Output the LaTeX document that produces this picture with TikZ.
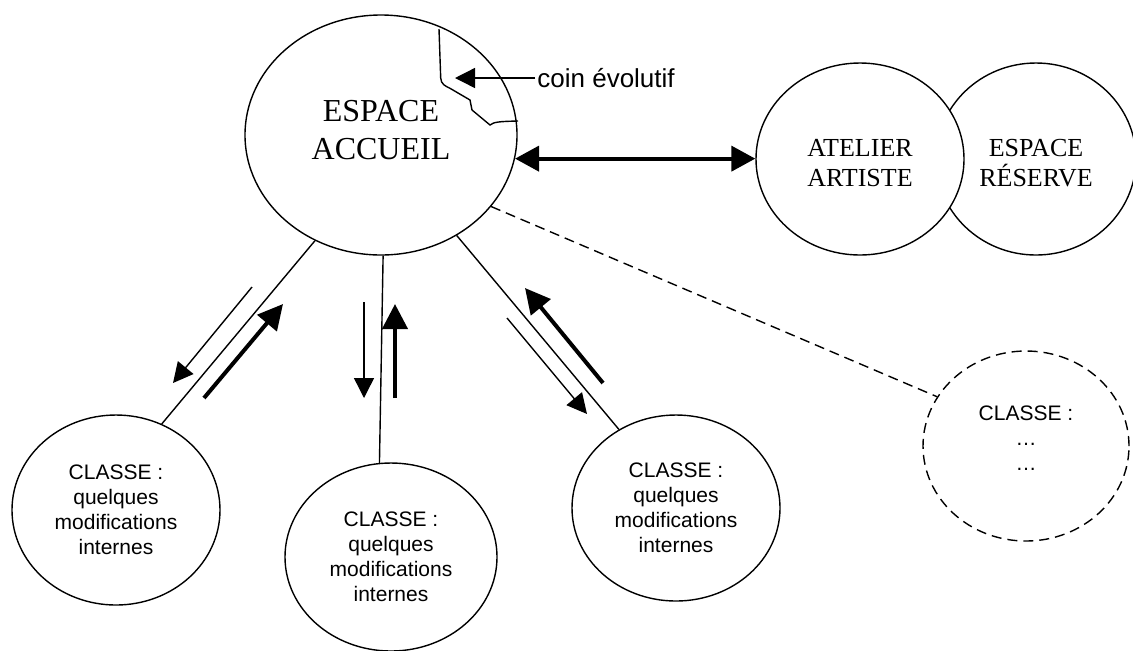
\documentclass[tikz,border=0pt]{standalone}
\usepackage{fontspec}
\setmainfont{Liberation Serif}
\setsansfont{Liberation Sans}
\usetikzlibrary{shapes.geometric, arrows.meta}
\tikzstyle{planche} = [x = .5pt, y = -.5pt]
\tikzstyle{espaceStyle} = [draw, ellipse, line width = .7pt, inner sep = 0pt, align = center]
\tikzstyle{grandTexte} = [font = \fontsize{16}{19}\selectfont]
\tikzstyle{moyenTexte} = [font = \fontsize{13}{15}\selectfont]
\tikzstyle{classeTexte} = [font = \sffamily\fontsize{10.5}{12.5}\selectfont]
\tikzstyle{trait} = [line width = .7pt]
\tikzstyle{pointille} = [line width = .7pt, dash pattern = on 5pt off 3pt]
\tikzstyle{allerStyle} = [line width = .7pt, -{Triangle[length = 10pt, width = 10pt]}]
\tikzstyle{retourStyle} = [line width = 2pt, -{Triangle[length = 12.5pt, width = 12.5pt]}]
\tikzstyle{doubleStyle} = [line width = 2pt, {Triangle[length = 12pt, width = 12.5pt]}-{Triangle[length = 12pt, width = 12.5pt]}]
\newcommand{\flechesClasse}[9]{
  \coordinate (#1a) at (#2,#3);
  \coordinate (#1b) at (#4,#5);
  \coordinate (#1c) at (#6,#7);
  \coordinate (#1d) at (#8,#9);
  \draw [allerStyle] (#1a) -- (#1b);
  \draw [retourStyle] (#1c) -- (#1d);
}
\begin{document}
\begin{tikzpicture}[planche]
    \useasboundingbox (0,0) rectangle (1133,650);
    % espaces du haut
    \node [espaceStyle, grandTexte, text depth = 5pt, minimum width = 136pt, minimum height = 120pt] (accueil) at (381,135) {ESPACE\\ACCUEIL};
    \node [espaceStyle, moyenTexte, text height = 27.6pt, minimum width = 100pt, minimum height = 96pt] (reserve) at (1036,159) {ESPACE\\RÉSERVE};
    \node [espaceStyle, moyenTexte, text height = 27.6pt, fill = white, minimum width = 104pt, minimum height = 96pt] (atelier) at (860,159) {ATELIER\\ARTISTE};
    % coin evolutif
    \draw [trait] (439,29) -- (440.7,78) .. controls (441,84) and (445,86) .. (450,88.3) -- (470,100) -- (472,110) -- (490,125) .. controls (494,122) and (498,121.5) .. (518,121);
    \node [font = \sffamily\fontsize{13}{15}\selectfont, anchor = west, inner sep = 1pt] (coin) at (535,78) {coin évolutif};
    \coordinate (coinPointe) at (455,78);
    \draw [allerStyle] (coin.west) -- (coinPointe);
    \draw [doubleStyle] (accueil.-10) -- (accueil.-10 -| atelier.west);
    % classes
    \node [espaceStyle, classeTexte, minimum width = 104pt, minimum height = 95pt] (classeG) at (116,510) {CLASSE :\\quelques\\modifications\\internes};
    \node [espaceStyle, classeTexte, minimum width = 106pt, minimum height = 94pt] (classeM) at (391,557) {CLASSE :\\quelques\\modifications\\internes};
    \node [espaceStyle, classeTexte, minimum width = 104pt, minimum height = 93pt] (classeD) at (676,508) {CLASSE :\\quelques\\modifications\\internes};
    \node [espaceStyle, classeTexte, pointille, text depth = 8pt, minimum width = 103pt, minimum height = 95pt] (classeX) at (1026,446) {CLASSE :\\…\\…};
    \draw [trait] (accueil.238) -- (classeG.62);
    \draw [trait] (accueil.271) -- (classeM.97);
    \draw [trait] (accueil.307) -- (classeD.126);
    \draw [pointille] (accueil.327) -- (classeX.151);
    \flechesClasse{gauche}{252}{287}{173}{383}{204}{398}{283}{304}
    \flechesClasse{milieu}{364}{302}{364}{398}{395}{398}{395}{304}
    \flechesClasse{droite}{507}{318}{587}{414}{603}{383}{525}{288}
\end{tikzpicture}
\end{document}
